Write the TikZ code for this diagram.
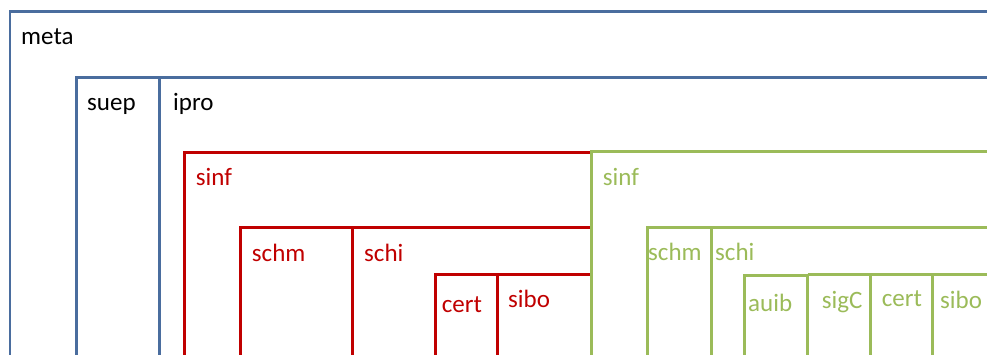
\documentclass[tikz,border=0pt]{standalone}
\usepackage{fontspec}
\setmainfont{Carlito}
\definecolor{metablue}{HTML}{4A6D9E}
\definecolor{myred}{HTML}{C00000}
\definecolor{mygreen}{HTML}{9BBB59}
\begin{document}
\begin{tikzpicture}[x=1pt,y=-1pt,
  bline/.style={draw=metablue,line width=2.7pt,line join=miter},
  rline/.style={draw=myred,line width=3pt,line join=miter},
  gline/.style={draw=mygreen,line width=3pt,line join=miter},
  lbl/.style={anchor=base west,inner sep=0pt,font=\fontsize{25}{30}\selectfont},
  rlbl/.style={lbl,text=myred},
  glbl/.style={lbl,text=mygreen}]
\useasboundingbox (0,0) rectangle (987,355);
\clip (0,0) rectangle (987,355);
% blue boxes
\draw[bline] (10,11.7) rectangle (1100,500);
\draw[bline] (76.3,77.3) rectangle (1100,500);
\draw[bline] (159.3,77.3) -- (159.3,500);
% red boxes
\draw[rline] (590,152.3) -- (184,152.3) -- (184,500);
\draw[rline] (590,227.7) -- (240.7,227.7) -- (240.7,500);
\draw[rline] (352.7,227.7) -- (352.7,500);
\draw[rline] (590,274.3) -- (435,274.3) -- (435,500);
\draw[rline] (497.7,274.3) -- (497.7,500);
% green boxes
\draw[gline] (591,152) rectangle (1100,500);
\draw[gline] (647.7,227.3) rectangle (1100,500);
\draw[gline] (711,227.3) -- (711,500);
\draw[gline] (744,500) -- (744,275) -- (807.7,275) -- (807.7,500);
\draw[gline] (807.7,274) -- (1100,274);
\draw[gline] (870,274) -- (870,500);
\draw[gline] (932.3,274) -- (932.3,500);
% labels
\node[lbl] (meta) at (21,45) {meta};
\node[lbl] (suep) at (87,111) {suep};
\node[lbl] (ipro) at (173,111) {ipro};
\node[rlbl] (rsinf) at (195.7,186) {sinf};
\node[rlbl] (rschm) at (251.7,261.7) {schm};
\node[rlbl] (rschi) at (364,261.7) {schi};
\node[rlbl] (rcert) at (441.7,312.7) {cert};
\node[rlbl] (rsibo) at (508,307.7) {sibo};
\node[glbl] (gsinf) at (602.7,185.7) {sinf};
\node[glbl] (gschm) at (648,260.7) {schm};
\node[glbl] (gschi) at (715,260.7) {schi};
\node[glbl] (gauib) at (748,311.7) {auib};
\node[glbl] (gsigc) at (821.7,308) {sigC};
\node[glbl] (gcert) at (881.7,306.7) {cert};
\node[glbl] (gsibo) at (940,308) {sibo};
\end{tikzpicture}
\end{document}
